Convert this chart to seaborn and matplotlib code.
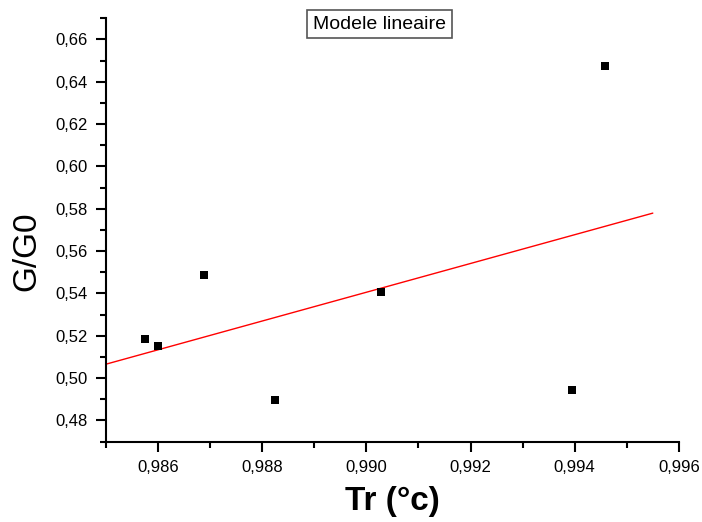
import numpy as np
import pandas as pd
import matplotlib
matplotlib.use("Agg")
import matplotlib.pyplot as plt
import seaborn as sns
from matplotlib.ticker import FuncFormatter, MultipleLocator

# Data
tr = [0.98575, 0.98600, 0.98688, 0.98824, 0.99029, 0.99394, 0.99458]
g_g0 = [0.5184, 0.5150, 0.5489, 0.4898, 0.5407, 0.4943, 0.6475]
fit_range = [0.985, 0.9955]
x_ticks = [0.986, 0.988, 0.990, 0.992, 0.994, 0.996]
y_ticks = [0.48, 0.50, 0.52, 0.54, 0.56, 0.58, 0.60, 0.62, 0.64, 0.66]
title_text = "Modele lineaire"

sns.set_style("white")
plt.rcParams['font.family'] = ['Liberation Sans', 'DejaVu Sans']
plt.rcParams['text.color'] = 'black'
plt.rcParams['axes.labelcolor'] = 'black'

df = pd.DataFrame({"Tr": tr, "G": g_g0})

fig = plt.figure(figsize=(7.02, 5.22), dpi=100)
ax = fig.add_axes([0.151, 0.154, 0.816, 0.811])

sns.scatterplot(data=df, x="Tr", y="G", marker="s", s=38, color="black",
                edgecolor="black", linewidth=0, ax=ax, zorder=3)

slope, intercept = np.polyfit(tr, g_g0, 1)
xf = np.array(fit_range)
ax.plot(xf, slope * xf + intercept, color="red", lw=1.0, zorder=2)

ax.set_xlim(0.985, 0.996)
ax.set_ylim(0.47, 0.67)
ax.set_xticks(x_ticks)
ax.set_yticks(y_ticks)
ax.xaxis.set_minor_locator(MultipleLocator(0.001))
ax.yaxis.set_minor_locator(MultipleLocator(0.01))
ax.xaxis.set_major_formatter(FuncFormatter(lambda v, p: f"{v:.3f}".replace(".", ",")))
ax.yaxis.set_major_formatter(FuncFormatter(lambda v, p: f"{v:.2f}".replace(".", ",")))

for s in ["top", "right"]:
    ax.spines[s].set_visible(False)
for s in ["left", "bottom"]:
    ax.spines[s].set_color("black")
    ax.spines[s].set_linewidth(1.5)

ax.tick_params(which="major", direction="out", length=7, width=1.5, colors="black",
               labelsize=12, pad=6)
ax.tick_params(which="minor", direction="out", length=4, width=1.5, colors="black")
ax.tick_params(axis="x", which="both", bottom=True)
ax.tick_params(axis="y", which="both", left=True)

ax.set_xlabel("Tr (°c)", fontsize=24, fontweight="bold", color="black",
              family=['Liberation Sans Narrow', 'Liberation Sans', 'DejaVu Sans'])
ax.xaxis.set_label_coords(0.5, -0.142)
ax.xaxis.label.set_va("center")
ax.set_ylabel("G/G0", fontsize=24, color="black")
ax.yaxis.set_label_coords(-0.138, 0.45)
ax.yaxis.label.set_va("center")

fig.text(0.5405, 0.954, title_text, ha="center", va="center", fontsize=14, color="black",
         bbox=dict(boxstyle="square,pad=0.3", facecolor="white", edgecolor="#555555", lw=1.2))

fig.savefig("out.png", dpi=100)
